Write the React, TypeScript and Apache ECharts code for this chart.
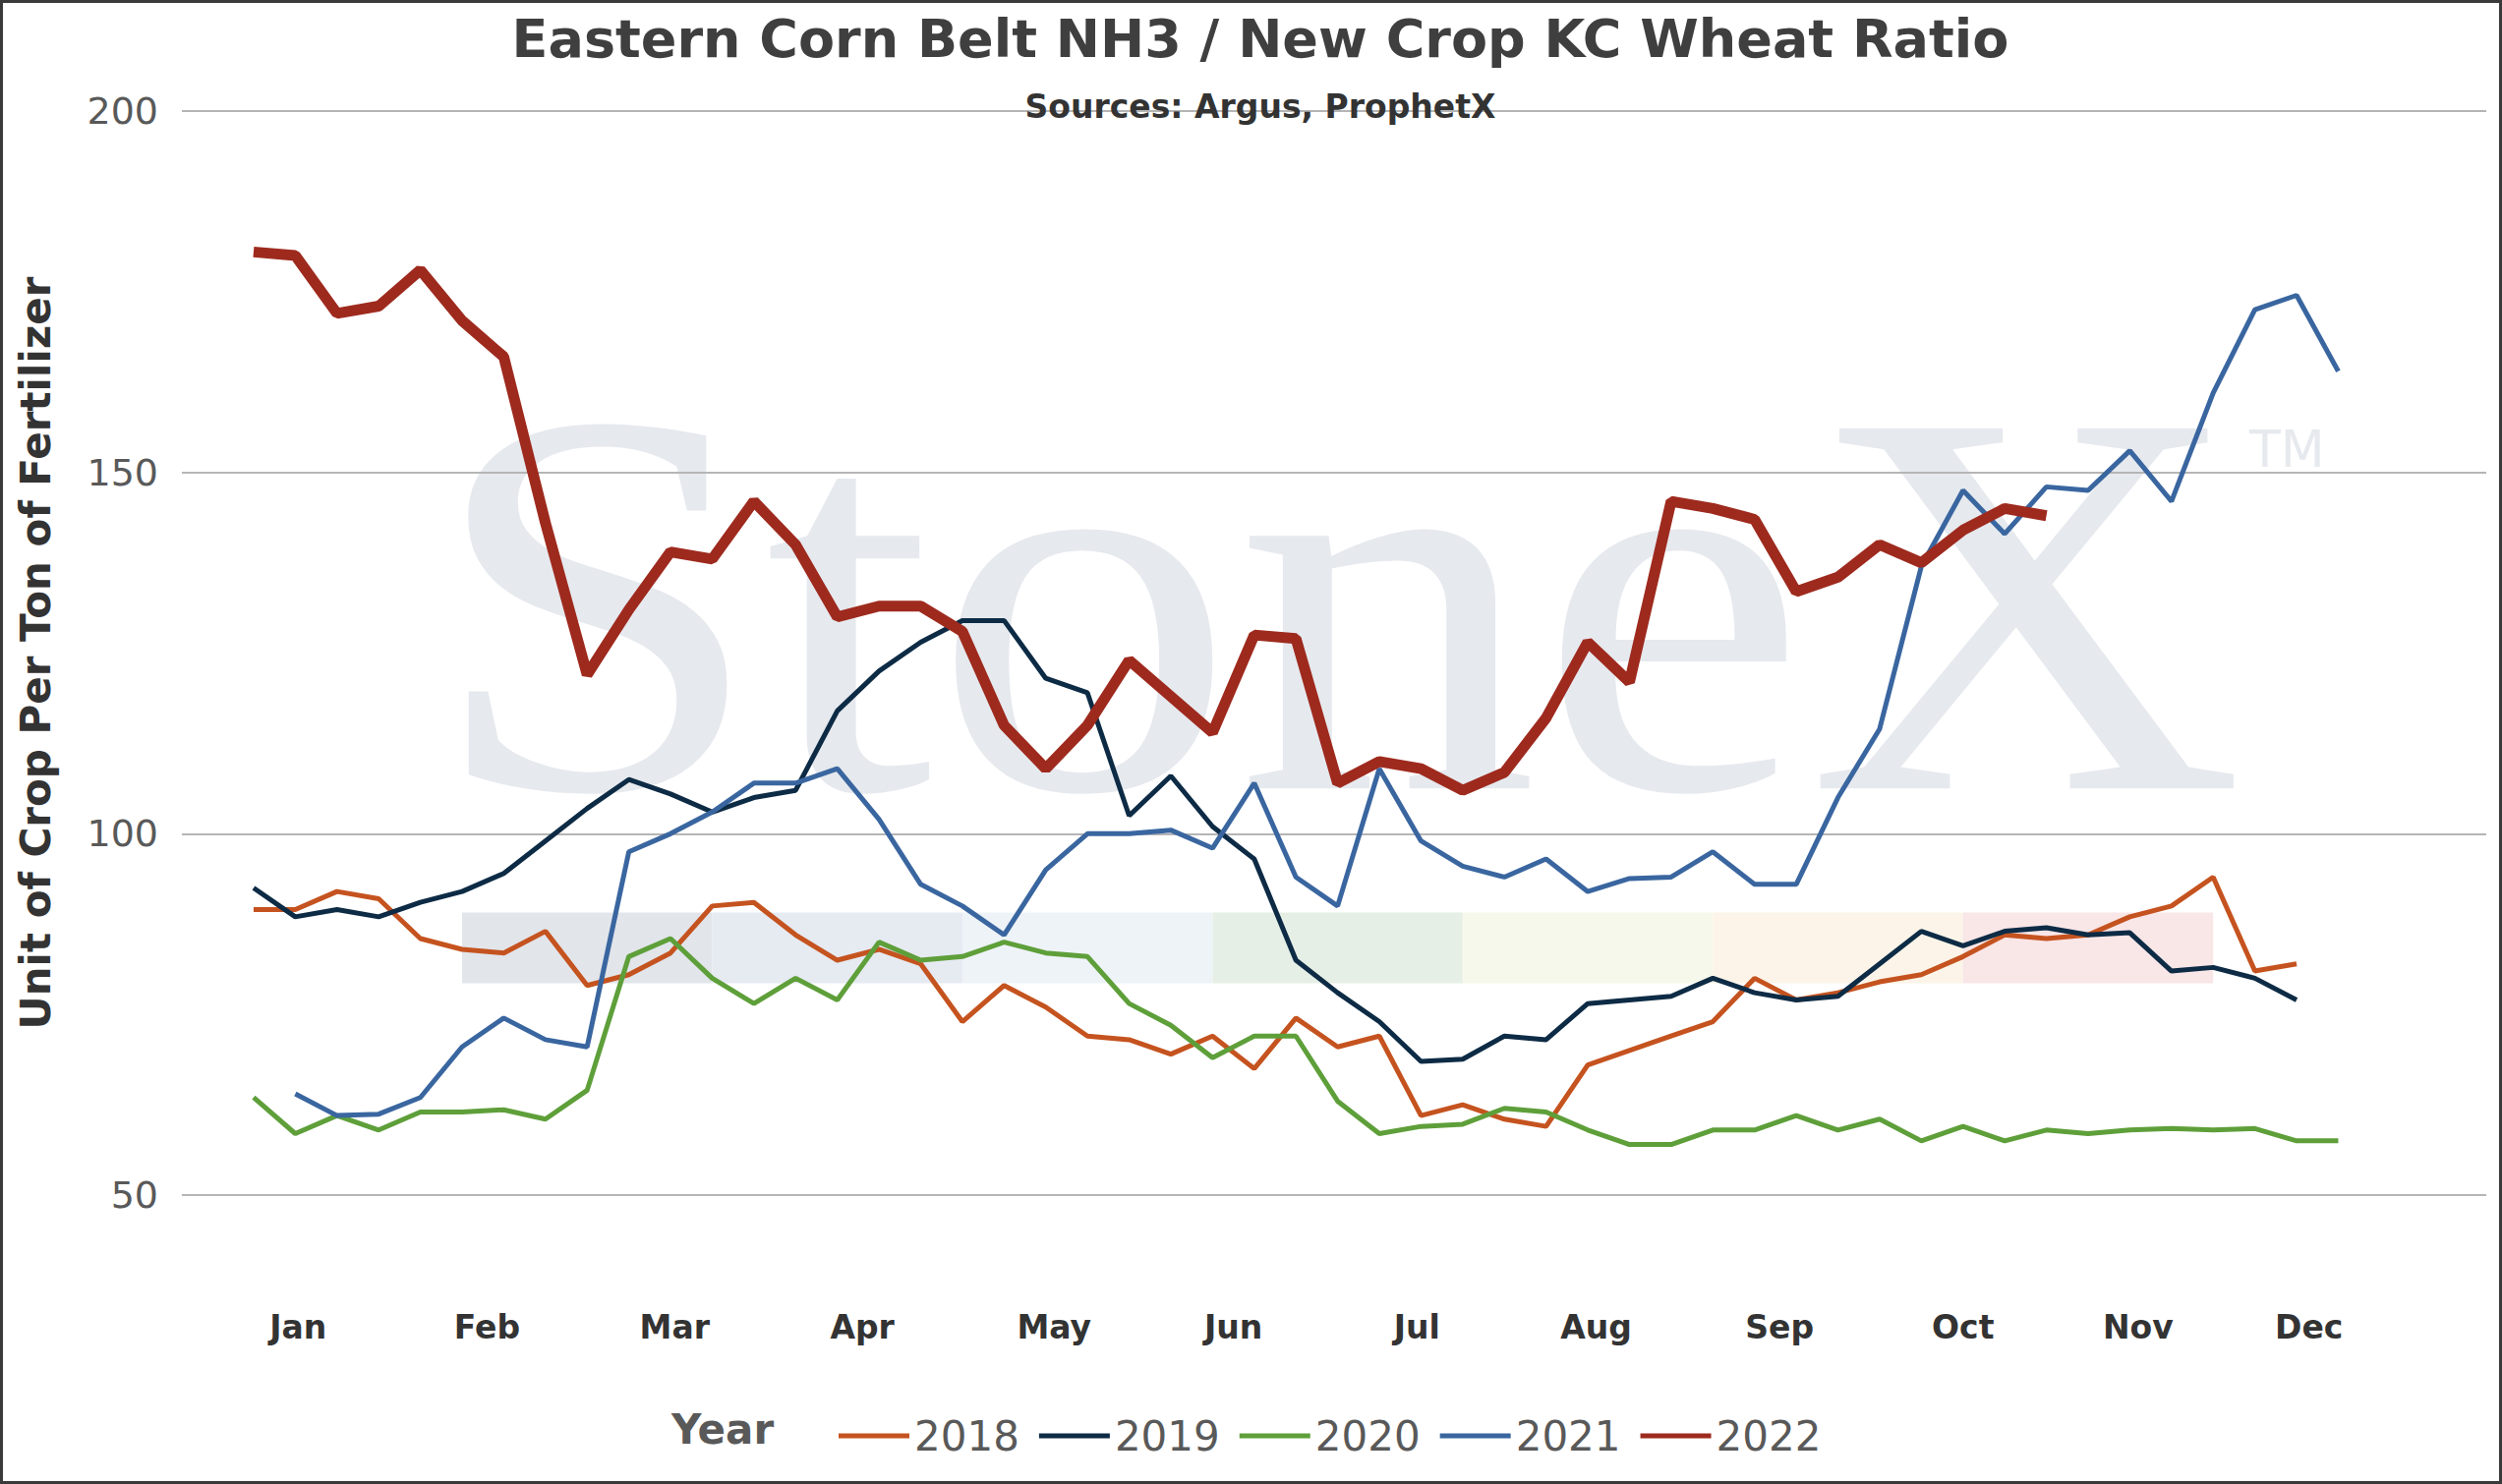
import React, { useEffect, useRef } from "react";
import * as echarts from "echarts";

const months = ["Jan","Feb","Mar","Apr","May","Jun","Jul","Aug","Sep","Oct","Nov","Dec"];
const monthPos = [1.07,5.6,10.1,14.6,19.2,23.5,27.9,32.2,36.6,41.0,45.2,49.3];
const yTicks = [50, 100, 150, 200];

const s2018 = [89.5,89.5,92,91,85.5,84,83.5,86.5,79,80.5,83.5,90,90.5,86,82.5,84,82,74,79,76,72,71.5,69.5,72,67.5,74.5,70.5,72,61,62.5,60.5,59.5,68,70,72,74,80,77,78,79.5,80.5,83,86,85.5,86,88.5,90,94,81,82];
const s2019 = [92.5,88.5,89.5,88.5,90.5,92,94.5,99,103.5,107.5,105.5,103,105,106,117,122.5,126.5,129.5,129.5,121.5,119.5,102.5,108,101,96.5,82.5,78,74,68.5,68.8,72,71.5,76.5,77,77.5,80,78,77,77.5,82,86.5,84.5,86.5,87,86,86.3,81,81.5,80,77];
const s2020 = [63.5,58.5,61,59,61.5,61.5,61.8,60.5,64.5,83,85.5,80,76.5,80,77,85,82.5,83,85,83.5,83,76.5,73.5,69,72,72,63,58.5,59.5,59.8,62,61.5,59,57,57,59,59,61,59,60.5,57.5,59.5,57.5,59,58.5,59,59.2,59,59.2,57.5,57.5];
const s2021 = [64,61,61.2,63.5,70.5,74.5,71.5,70.5,97.5,100,103,107,107,109,102,93,90,86,95,100,100,100.5,98,107,94,90,109,99,95.5,94,96.5,92,93.8,94,97.5,93,93,105,114.5,137,147.5,141.5,148,147.5,153,146,161,172.5,174.5,164];
const s2022 = [180.5,180,172,173,178,171,166,143,122,131,139,138,146,140,130,131.5,131.5,128,115,109,115,124,119,114,127.5,127,107,110,109,106,108.5,116,126.5,121,146,145,143.5,133.5,135.5,140,137.5,142,145,144];

const years = ["2018","2019","2020","2021","2022"];
const colors = ["#c5531f","#0d2b45","#5e9f3a","#3a66a0","#9e2a1e"];
const starts = [0,0,0,1,0];
const seriesData = [s2018,s2019,s2020,s2021,s2022];

const bandEdges = [5,11,17,23,29,35,41,47];
const bandColors = ["#e2e5ea","#e6eaf1","#eef3f8","#e6efe6","#f7f8ec","#fcf4e8","#f9e6e7"];
const bandLow = 79.3;
const bandHigh = 89.1;

export default function App() {
  const ref = useRef<HTMLDivElement>(null);
  useEffect(() => {
    const chart = echarts.init(ref.current!, null, { renderer: "svg" });
    const font = "DejaVu Sans";
    const series: any[] = seriesData.map((d, k) => ({
      name: years[k],
      type: "line",
      data: d.map((v, i) => [i + starts[k], v]),
      showSymbol: false,
      lineStyle: { color: colors[k], width: k === 4 ? 11 : 5 },
      itemStyle: { color: colors[k] },
      z: k === 4 ? 5 : 3,
    }));
    series[0].markArea = {
      silent: true,
      z: 1,
      data: bandColors.map((c, i) => [
        { xAxis: bandEdges[i], yAxis: bandLow, itemStyle: { color: c } },
        { xAxis: bandEdges[i + 1], yAxis: bandHigh },
      ]),
    };
    chart.setOption({
      animation: false,
      backgroundColor: "#fff",
      title: {
        text: "Eastern Corn Belt NH3 / New Crop KC Wheat Ratio",
        subtext: "Sources: Argus, ProphetX",
        left: 1274, textAlign: "center", top: 4, itemGap: 26,
        textStyle: { fontFamily: font, fontSize: 54, fontWeight: "bold", color: "#3f3f3f" },
        subtextStyle: { fontFamily: font, fontSize: 33, fontWeight: "bold", color: "#333" },
      },
      graphic: [
        { type: "text", z: -10, x: 432, y: 330, scaleX: 1.1, style: { text: "StoneX", font: "560px 'Liberation Serif'", fill: "#e6e9ee" } },
        { type: "text", z: -10, left: 2285, top: 428, style: { text: "TM", font: "52px 'DejaVu Sans'", fill: "#e6e9ee" } },
        { type: "text", left: 680, top: 1430, style: { text: "Year", font: "bold 42px 'DejaVu Sans'", fill: "#595959" } },
      ],
      legend: {
        data: years, left: 845, top: 1432, itemWidth: 72, itemHeight: 5, itemGap: 20,
        icon: "rect",
        textStyle: { fontFamily: font, fontSize: 42, color: "#595959" },
      },
      grid: { left: 182, right: 13, top: 110, bottom: 291 },
      xAxis: {
        type: "value", min: -1.72, max: 53.55,
        axisLine: { show: false }, axisTick: { show: false }, splitLine: { show: false },
        axisLabel: {
          customValues: monthPos, margin: 118,
          formatter: (v: number) => months[monthPos.findIndex(p => Math.abs(p - v) < 0.01)] ?? "",
          fontFamily: font, fontSize: 33, fontWeight: "bold", color: "#333",
        },
      },
      yAxis: {
        type: "value", min: 50, max: 200, interval: 50,
        name: "Unit of Crop Per Ton of Fertilizer", nameLocation: "middle", nameGap: 128,
        nameTextStyle: { fontFamily: font, fontSize: 42, fontWeight: "bold", color: "#333" },
        axisLine: { show: false }, axisTick: { show: false },
        axisLabel: { fontFamily: font, fontSize: 38, color: "#595959", margin: 24,
          customValues: yTicks },
        splitLine: { lineStyle: { color: "#b5b5b5", width: 2 } },
      },
      series,
    });
    return () => chart.dispose();
  }, []);
  return (
    <div style={{ position: "fixed", left: 0, top: 0, width: 2545, height: 1510, boxSizing: "border-box", border: "3px solid #3a3a3a", background: "#fff" }}>
      <div ref={ref} style={{ width: 2539, height: 1504 }} />
    </div>
  );
}
